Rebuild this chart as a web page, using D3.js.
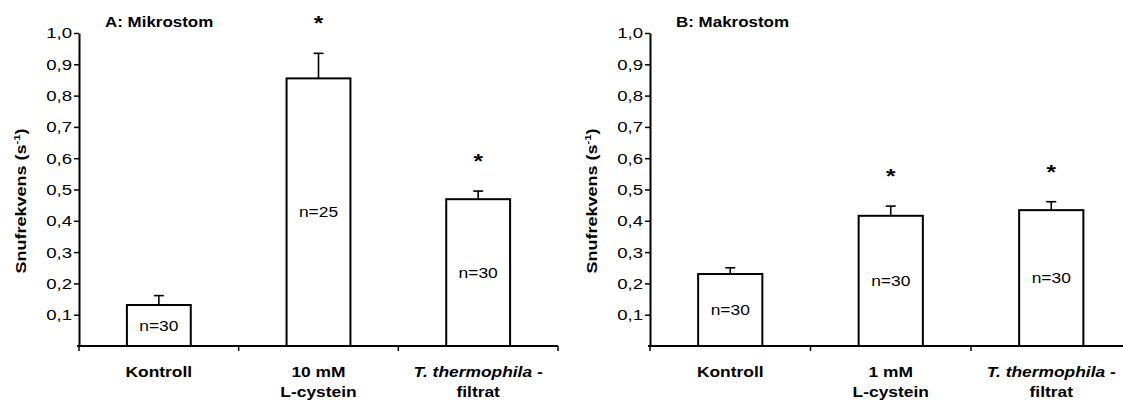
<!DOCTYPE html>
<html>
<head>
<meta charset="utf-8">
<script src="https://cdn.jsdelivr.net/npm/d3@7"></script>
<style>
  body { margin: 0; background: #fff; }
  svg { display: block; }
  text { font-family: "Liberation Sans", Arial, Helvetica, sans-serif; fill: #000; }
</style>
</head>
<body>
<svg id="chart" width="1123" height="400"></svg>
<script>
// Treatment groups (same order in both panels)
const groups = ["kontroll", "cystein", "filtrat"];

// Panel A: microstome cells
const labelLinesA = [["Kontroll"], ["10 mM", "L-cystein"], ["T. thermophila -", "filtrat"]];
const meanA = [0.131, 0.855, 0.469];
const errA  = [0.030, 0.080, 0.026];
const nA    = [30, 25, 30];
const sigA  = [false, true, true];

// Panel B: macrostome cells
const labelLinesB = [["Kontroll"], ["1 mM", "L-cystein"], ["T. thermophila -", "filtrat"]];
const meanB = [0.230, 0.416, 0.434];
const errB  = [0.020, 0.031, 0.027];
const nB    = [30, 30, 30];
const sigB  = [false, true, true];

const yTicks = [0.1, 0.2, 0.3, 0.4, 0.5, 0.6, 0.7, 0.8, 0.9, 1.0];
const yLabel = "Snufrekvens";

// Wide-set lettering: glyphs are stretched along the reading direction
const STRETCH = 1.16;

const svg = d3.select("#chart");
const y = d3.scaleLinear().domain([0, 1]).range([346, 33]);
const fmt = d3.formatLocale({ decimal: ",", thousands: " ", grouping: [3], currency: ["", ""] }).format(".1f");

function stretchedText(parent, x, yPos, str, opts = {}) {
  return parent.append("text")
    .attr("transform", `translate(${x},${yPos}) scale(${opts.stretch || STRETCH},1)`)
    .attr("text-anchor", opts.anchor || "middle")
    .attr("font-size", opts.size || 15)
    .attr("font-weight", opts.weight || "normal")
    .attr("font-style", opts.style || "normal")
    .text(str);
}

function drawPanel(cfg) {
  const g = svg.append("g");
  const x = d3.scaleBand().domain(groups).range(cfg.range).paddingInner(0.6).paddingOuter(0.3);
  const step = x.step();
  const bw = x.bandwidth();
  const x0 = cfg.range[0];

  const data = groups.map((k, i) => ({
    key: k, mean: cfg.mean[i], err: cfg.err[i], n: cfg.n[i], sig: cfg.sig[i], lines: cfg.lines[i]
  }));

  // error bars (upper half only)
  const eb = g.selectAll(".eb").data(data).join("g").attr("class", "eb")
    .attr("stroke", "#000").attr("stroke-width", 1.6);
  eb.append("line")
    .attr("x1", d => x(d.key) + bw / 2).attr("x2", d => x(d.key) + bw / 2)
    .attr("y1", d => y(d.mean)).attr("y2", d => y(d.mean + d.err));
  eb.append("line")
    .attr("x1", d => x(d.key) + bw / 2 - 5).attr("x2", d => x(d.key) + bw / 2 + 5)
    .attr("y1", d => y(d.mean + d.err)).attr("y2", d => y(d.mean + d.err));

  // bars
  g.selectAll(".bar").data(data).join("rect").attr("class", "bar")
    .attr("x", d => x(d.key)).attr("width", bw)
    .attr("y", d => y(d.mean)).attr("height", d => y(0) - y(d.mean))
    .attr("fill", "#fff").attr("stroke", "#000").attr("stroke-width", 2);

  // sample sizes inside bars
  data.forEach(d => {
    stretchedText(g, x(d.key) + bw / 2, (y(d.mean) + y(0)) / 2, "n=" + d.n, { size: 15 })
      .attr("dy", "0.35em");
  });

  // significance markers
  data.filter(d => d.sig).forEach(d => {
    stretchedText(g, x(d.key) + bw / 2, y(d.mean + d.err) - 23, "*", { size: 21, weight: "bold" });
  });

  // y axis
  const ya = g.append("g").attr("transform", `translate(${x0},0)`)
    .call(d3.axisLeft(y).tickValues(yTicks).tickSize(5).tickSizeOuter(0).tickFormat(fmt));
  ya.select(".domain").attr("stroke", "#000").attr("stroke-width", 2);
  ya.selectAll(".tick line").attr("stroke", "#000").attr("stroke-width", 1.5);
  ya.selectAll(".tick text")
    .attr("x", 0)
    .attr("transform", `translate(-7,0) scale(1.2,1)`)
    .attr("font-size", 15.5).attr("font-family", null).attr("fill", "#000");

  // x axis baseline with band separators
  g.append("line")
    .attr("x1", x0 - 2).attr("x2", cfg.range[1])
    .attr("y1", y(0)).attr("y2", y(0))
    .attr("stroke", "#000").attr("stroke-width", 2);
  const bounds = d3.range(groups.length + 1).map(i => x0 + i * step);
  g.selectAll(".xt").data(bounds).join("line").attr("class", "xt")
    .attr("x1", d => d).attr("x2", d => d)
    .attr("y1", y(0)).attr("y2", y(0) + 5)
    .attr("stroke", "#000").attr("stroke-width", 1.5);

  // category labels
  data.forEach(d => {
    const cx = x(d.key) + bw / 2;
    d.lines.forEach((line, j) => {
      const italic = line.startsWith("T. ");
      stretchedText(g, cx, 376.5 + j * 20.5, line, { size: 15, weight: "bold", style: italic ? "italic" : "normal" });
    });
  });

  // panel title
  stretchedText(g, x0 + 26, 27, cfg.title, { size: 15, weight: "bold", anchor: "start", stretch: 1.13 });

  // y-axis title
  const yl = g.append("text")
    .attr("transform", `translate(${cfg.ylabelX},201) rotate(-90) scale(1.2,1)`)
    .attr("text-anchor", "middle").attr("font-size", 15).attr("font-weight", "bold");
  yl.append("tspan").text(yLabel + " (s");
  yl.append("tspan").attr("font-size", 9.5).attr("dy", -6).text("-1");
  yl.append("tspan").attr("dy", 6).text(")");
}

drawPanel({ range: [79, 558], mean: meanA, err: errA, n: nA, sig: sigA, lines: labelLinesA,
            title: "A: Mikrostom", ylabelX: 25.5 });
drawPanel({ range: [650, 1131.5], mean: meanB, err: errB, n: nB, sig: sigB, lines: labelLinesB,
            title: "B: Makrostom", ylabelX: 597 });
</script>
</body>
</html>
